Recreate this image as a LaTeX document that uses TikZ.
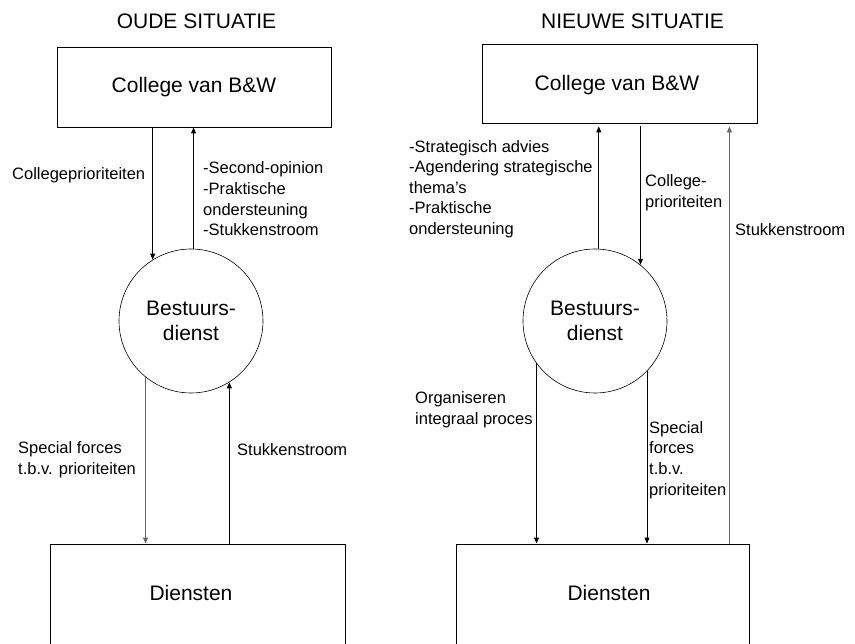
\documentclass[tikz,border=0pt]{standalone}
\usepackage{fontspec}
\setmainfont{Liberation Sans}
\usetikzlibrary{arrows.meta,calc}
\begin{document}
\begin{tikzpicture}[x=1pt,y=-1pt,
  box/.style={draw,line width=0.9pt,inner sep=0pt},
  circ/.style={draw,circle,minimum size=144pt,inner sep=0pt,line width=0.6pt,
    align=center,font=\fontsize{21}{25}\selectfont},
  big/.style={font=\fontsize{21}{25}\selectfont,inner sep=0pt},
  lbl/.style={font=\fontsize{16.5}{20.6}\selectfont,align=left,inner sep=0pt},
  flow/.style={line width=0.9pt,-{Triangle[length=6pt,width=5pt]}},
  faint/.style={draw=black!60}]
\clip (0,0) rectangle (855,644);

% ---------- left: old situation ----------
\node[big] (tL) at (196.5,21) {OUDE SITUATIE};
\node[box,big,minimum width=274pt,minimum height=80pt] (cbwL) at (194,87) {College van B\&W};
\node[circ] (bdL) at (191,321) {Bestuurs-\\dienst};
\node[box,minimum width=295pt,minimum height=102pt] (dL) at (197.5,595) {};
\node[big] (dLt) at (191,593) {Diensten};

\draw[flow] (cbwL.south -| bdL.122) -- (bdL.122);
\draw[flow] (bdL.88) -- (bdL.88 |- cbwL.south);
\draw[flow,faint] (bdL.231) -- (bdL.231 |- dL.north);
\draw[flow] (bdL.302 |- dL.north) -- (bdL.302);

\node[lbl,anchor=west] (l1) at (12,175) {Collegeprioriteiten};
\node[lbl,anchor=west] (l2) at (203,199) {-Second-opinion\\-Praktische\\ondersteuning\\-Stukkenstroom};
\node[lbl,anchor=west] (l3) at (18,460) {Special forces\\t.b.v. prioriteiten};
\node[lbl,anchor=west] (l4) at (237,450) {Stukkenstroom};

% ---------- right: new situation ----------
\node[big] (tR) at (632.5,21) {NIEUWE SITUATIE};
\node[box,minimum width=275pt,minimum height=79pt] (cbwR) at (619.5,83.5) {};
\node[big] (cbwRt) at (617,85.5) {College van B\&W};
\node[circ] (bdR) at (595,321) {Bestuurs-\\dienst};
\node[box,minimum width=293pt,minimum height=102pt] (dR) at (602.5,595) {};
\node[big] (dRt) at (609,593) {Diensten};
\coordinate (skR) at ([xshift=-20pt]dR.north east);

\draw[flow,shorten >=3pt] (bdR.87) -- (bdR.87 |- cbwR.south);
\draw[flow,shorten <=3pt] (cbwR.south -| bdR.51) -- (bdR.51);
\draw[flow] (bdR.216) -- (bdR.216 |- dR.north);
\draw[flow] (bdR.316) -- (bdR.316 |- dR.north);
\draw[flow,faint,shorten >=3pt] (skR) -- (skR |- cbwR.south);

\node[lbl,anchor=west] (r1) at (409,189) {-Strategisch advies\\-Agendering strategische\\thema’s\\-Praktische\\ondersteuning};
\node[lbl,anchor=west] (r2) at (645,192.5) {College-\\prioriteiten};
\node[lbl,anchor=west] (r3) at (735,230) {Stukkenstroom};
\node[lbl,anchor=west] (r4) at (415,410) {Organiseren\\integraal proces};
\node[lbl,anchor=west] (r5) at (649,460) {Special\\forces\\t.b.v.\\prioriteiten};
\end{tikzpicture}
\end{document}
